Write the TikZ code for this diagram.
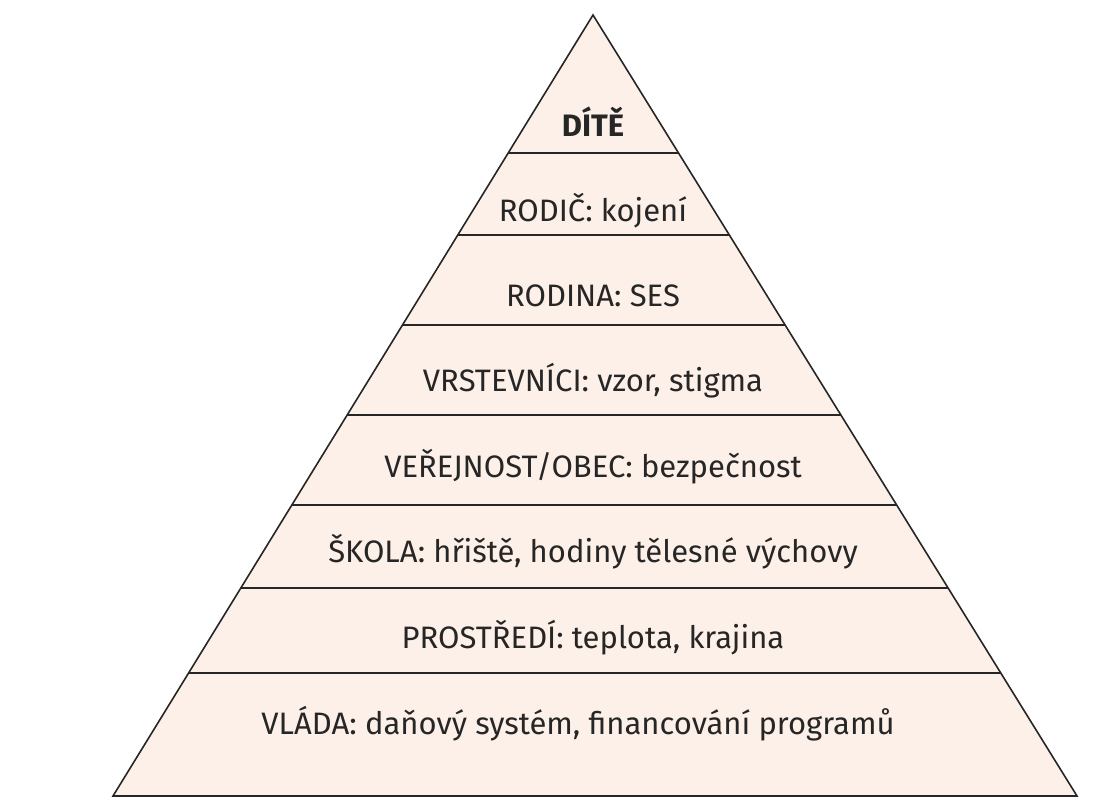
\documentclass[tikz,border=0pt]{standalone}
\usepackage{fontspec}
\setmainfont{Fira Sans}
\usetikzlibrary{calc}
\definecolor{fillc}{HTML}{FDF0E8}
\begin{document}
\begin{tikzpicture}[x=1pt,y=-1pt,
  lab/.style={font=\fontsize{31}{36}\selectfont, text=black!85, inner sep=0pt}]
\useasboundingbox (0,0) rectangle (1094,800);
\coordinate (A) at (593,15);
\coordinate (L) at (113,796);
\coordinate (R) at (1077,796);
\filldraw[fill=fillc, draw=black!85, line width=1.6pt, line join=miter] (A) -- (L) -- (R) -- cycle;
\foreach \y/\n in {153/a,235/b,325/c,415/d,505/e,588/f,673/g}{
  \pgfmathsetmacro{\t}{(\y-15)/781}
  \coordinate (l\n) at ($(A)!\t!(L)$);
  \coordinate (r\n) at ($(A)!\t!(R)$);
  \draw[line width=1.6pt, draw=black!85] (l\n) -- (r\n);
}
\node[lab,font=\fontsize{31}{36}\selectfont\bfseries] (t0) at (593,122) {DÍTĚ};
\node[lab] (t1) at (593,211) {RODIČ: kojení};
\node[lab] (t2) at (593,296) {RODINA: SES};
\node[lab] (t3) at (593,381) {VRSTEVNÍCI: vzor, stigma};
\node[lab] (t4) at (593,467) {VEŘEJNOST/OBEC: bezpečnost};
\node[lab] (t5) at (593,552) {ŠKOLA: hřiště, hodiny tělesné výchovy};
\node[lab] (t6) at (593,638) {PROSTŘEDÍ: teplota, krajina};
\node[lab] (t7) at (578,724) {VLÁDA: daňový systém, financování programů};
\end{tikzpicture}
\end{document}
